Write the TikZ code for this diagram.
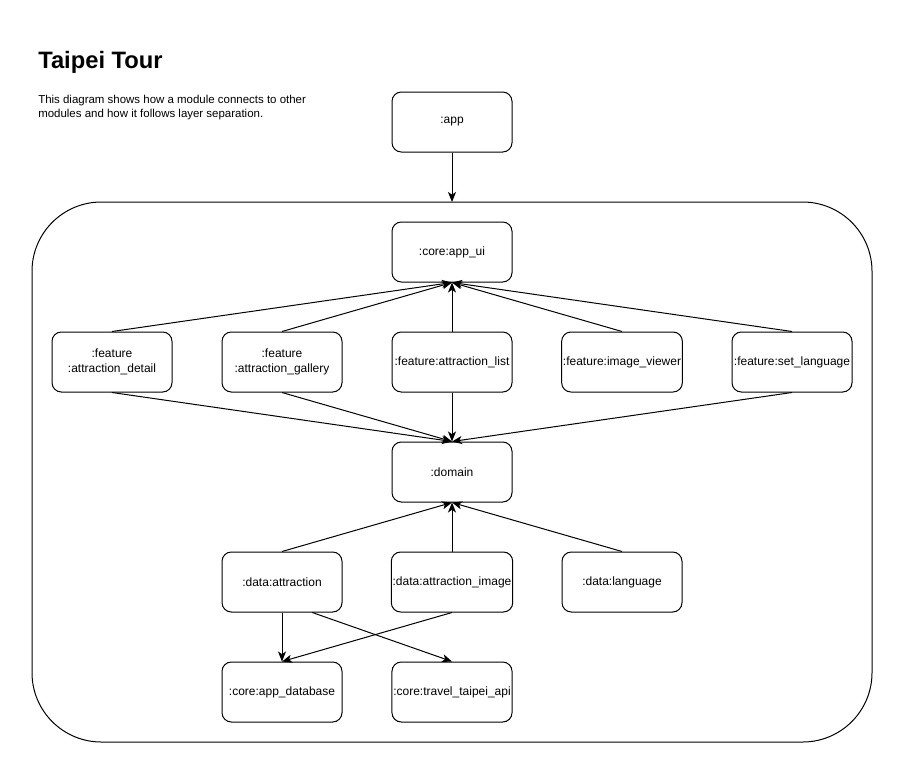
\documentclass[tikz,border=0pt]{standalone}
\usepackage{fontspec}
\setmainfont{Liberation Sans}
\usetikzlibrary{arrows.meta,positioning,shapes,calc}

\tikzset{
  modbox/.style={draw,rounded corners=7pt,minimum width=90pt,minimum height=45pt,
    align=center,inner sep=1pt,line width=0.75pt,font=\fontsize{9}{11}\selectfont},
  dep/.style={-{Stealth[length=7.5pt,width=6pt,inset=2pt]},line width=0.75pt}
}

\begin{document}
\begin{tikzpicture}[x=0.75pt,y=-0.75pt]
\useasboundingbox (0,0) rectangle (905,775);
% title and note
\node[anchor=west,inner sep=0pt,font=\bfseries\fontsize{17.8}{21}\selectfont] (title) at (38,62) {Taipei Tour};
\node[anchor=north west,inner sep=0pt,align=left,font=\fontsize{8.6}{10.5}\selectfont] (note) at (38,95)
  {This diagram shows how a module connects to other\\modules and how it follows layer separation.};
% outer group
\draw[line width=0.75pt,rounded corners=52pt] (32,202) rectangle (872,742);
\coordinate (grouptop) at (452,202);
% modules
\node[modbox] (app) at (452,122) {:app};
\node[modbox] (appui) at (452,252) {:core:app\_ui};
\node[modbox] (fdetail) at (112,362) {:feature\\:attraction\_detail};
\node[modbox] (fgallery) at (282,362) {:feature\\:attraction\_gallery};
\node[modbox] (flist) at (452,362) {:feature:attraction\_list};
\node[modbox] (fviewer) at (622,362) {:feature:image\_viewer};
\node[modbox] (flang) at (792,362) {:feature:set\_language};
\node[modbox] (domain) at (452,472) {:domain};
\node[modbox] (dattr) at (282,582) {:data:attraction};
\node[modbox] (dimage) at (452,582) {:data:attraction\_image};
\node[modbox] (dlang) at (622,582) {:data:language};
\node[modbox] (cdb) at (282,692) {:core:app\_database};
\node[modbox] (capi) at (452,692) {:core:travel\_taipei\_api};
% dependencies
\draw[dep] (app) -- (grouptop);
\foreach \f in {fdetail,fgallery,flist,fviewer,flang}
  \draw[dep] (\f.north) -- (appui.south);
\foreach \f in {fdetail,fgallery,flist,flang}
  \draw[dep] (\f.south) -- (domain.north);
\foreach \d in {dattr,dimage,dlang}
  \draw[dep] (\d.north) -- (domain.south);
\draw[dep] (dattr) -- (cdb);
\draw[dep] ($(dattr.south)!0.5!(dattr.south east)$) -- (capi.north);
\draw[dep] (dimage.south) -- (cdb.north);
\end{tikzpicture}
\end{document}
